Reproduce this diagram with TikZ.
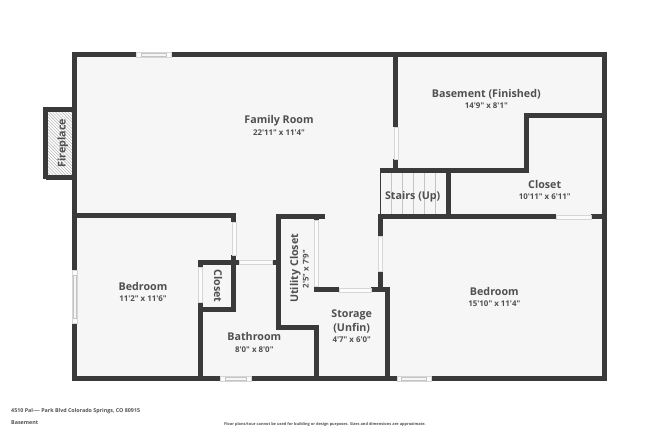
\documentclass[tikz,border=0pt]{standalone}
\usepackage{fontspec}
\newfontfamily\osf{Open Sans}
\definecolor{wallc}{HTML}{3A3A3A}
\definecolor{floorc}{HTML}{F6F6F6}
\definecolor{textc}{HTML}{505050}
\definecolor{openc}{HTML}{FBFBFB}
\definecolor{edgec}{HTML}{D6D6D6}
\definecolor{treadc}{HTML}{C4C4C4}
\definecolor{hatchc}{HTML}{B0B0B0}
\tikzset{
  wall/.style={draw=wallc,line width=5pt,miter limit=10,line cap=butt,line join=miter},
  thinwall/.style={draw=wallc,line width=1pt},
  tread/.style={draw=treadc,line width=0.7pt},
  roomname/.style={font=\osf\bfseries\fontsize{10.7}{13}\selectfont,text=textc,inner sep=0pt,text height=8pt,text depth=0pt},
  roomdim/.style={font=\osf\bfseries\fontsize{7.9}{10}\selectfont,text=textc,inner sep=0pt,text height=6pt,text depth=0pt},
  foot/.style={font=\osf\bfseries\fontsize{5.35}{6}\selectfont,text=textc,inner sep=0pt,anchor=west},
  footc/.style={font=\osf\bfseries\fontsize{3.9}{5}\selectfont,text=textc,inner sep=0pt},
  opening/.style={fill=openc,draw=edgec,line width=0.35pt},
  winbar/.style={fill=floorc,draw=treadc,line width=0.4pt}
}
\begin{document}
\begin{tikzpicture}[x=1pt,y=-1pt]
\useasboundingbox (0,0) rectangle (650,433);
% floor
\fill[floorc] (74.8,54.8) rectangle (604.2,378.2);
% fireplace hatch
\fill[white] (48,111.5) rectangle (72.5,175);
\begin{scope}
\clip (48,111.5) rectangle (72.5,175);
\foreach \k in {0,...,32}{
  \draw[hatchc,line width=0.45pt] (44+3.1*\k,178) -- ++(-70,-70);
}
\end{scope}
% walls
\draw[wall] (45.8,109.2) -- (74.8,109.2);
\draw[wall] (45.8,106.7) -- (45.8,179.3);
\draw[wall] (45.8,177) -- (74.8,177);
\draw[wall] (74.8,378.2) -- (74.8,54.8) -- (604.2,54.8) -- (604.2,378.2) -- cycle;
% upper interior
\draw[wall] (395.7,55) -- (395.7,126.7);
\draw[wall] (395.7,159) -- (395.7,170.5);
\draw[wall] (380,170.5) -- (526,170.5) -- (526,116) -- (604,116);
\draw[wall] (448,170.5) -- (448,217);
\draw[wall] (378,216.8) -- (556,216.8);
\draw[wall] (590.7,216.8) -- (604,216.8);
\draw[wall] (380.4,214.5) -- (380.4,236);
\draw[wall] (380.4,270.7) -- (380.4,290);
% left bedroom
\draw[wall] (75,215) -- (233.9,215) -- (233.9,221.7);
\draw[wall] (233.9,255) -- (233.9,311.7);
\draw[wall] (198,262.5) -- (239,262.5);
\draw[wall] (200.3,260) -- (200.3,266.7);
\draw[wall] (200.3,301.7) -- (200.3,378);
\draw[wall] (200.3,309.3) -- (236.4,309.3);
% utility closet
\draw[wall] (271.7,262.5) -- (279,262.5);
\draw[wall] (325,216) -- (278.7,216) -- (278.7,327.7) -- (316.3,327.7) -- (316.3,378);
\draw[wall] (316,216) -- (316,220);
\draw[wall] (316,286) -- (316,292);
\draw[wall] (314,289.7) -- (338.7,289.7);
\draw[wall] (371.3,289.7) -- (389.5,289.7);
\draw[wall] (387,289.7) -- (387,378);
% door openings
\fill[opening] (232,221.7) rectangle (236,255);
\fill[opening] (198.4,266.7) rectangle (202.4,301.7);
\fill[opening] (239,260.6) rectangle (271.7,264.6);
\fill[opening] (314,220) rectangle (318,286);
\fill[opening] (338.7,287.8) rectangle (371.3,291.8);
\fill[opening] (378.4,236) rectangle (382.4,270.7);
\fill[opening] (393.7,126.7) rectangle (397.7,159);
\fill[opening] (556,214.8) rectangle (590.7,218.8);
% windows
\fill[opening] (136,52.3) rectangle (171,57.3);
\fill[winbar] (141,53.3) rectangle (166,56.3);
\fill[opening] (220,375.7) rectangle (251,380.7);
\fill[winbar] (225,376.7) rectangle (246,379.7);
\fill[opening] (396.7,375.7) rectangle (430.7,380.7);
\fill[winbar] (401.5,376.7) rectangle (426,379.7);
\fill[opening] (72.3,270) rectangle (77.3,323.3);
\fill[winbar] (73.3,275) rectangle (76.3,318.5);
% stairs
\draw[thinwall] (380.7,170) -- (380.7,215);
\foreach \sx in {391.7,402.6,413.5,424.4,435.3}{
  \draw[tread] (\sx,173) -- (\sx,214.3);
}
% labels
\node[roomname] (family) at (279,120) {Family Room};
\node[roomdim] (familyd) at (279,132.7) {22'11" x 11'4"};
\node[roomname] (basement) at (486.3,94) {Basement (Finished)};
\node[roomdim] (basementd) at (486.3,106) {14'9" x 8'1"};
\node[roomname] (closetr) at (544.7,184) {Closet};
\node[roomdim] (closetrd) at (544.7,196.7) {10'11" x 6'11"};
\node[roomname] (stairs) at (412.7,195.7) {Stairs (Up)};
\node[roomname,rotate=90] (fireplace) at (61.7,143) {Fireplace};
\node[roomname] (bedl) at (143,286) {Bedroom};
\node[roomdim] (bedld) at (143,298.7) {11'2" x 11'6"};
\node[roomname,rotate=-90] (closetl) at (218,286) {Closet};
\node[roomname,rotate=90] (utility) at (294,268.3) {Utility Closet};
\node[roomdim,rotate=90] (utilityd) at (305.7,269) {2'5" x 7'9"};
\node[roomname] (bath) at (254.3,336.7) {Bathroom};
\node[roomdim] (bathd) at (254.3,349.3) {8'0" x 8'0"};
\node[roomname] (storage) at (351.7,313.3) {Storage};
\node[roomname] (unfin) at (351.7,327.3) {(Unfin)};
\node[roomdim] (storaged) at (351.7,339.3) {4'7" x 6'0"};
\node[roomname] (bedr) at (494.3,291) {Bedroom};
\node[roomdim] (bedrd) at (494.3,303.3) {15'10" x 11'4"};
\node[foot] (addr) at (11,411.3) {4510 Pal---- Park Blvd Colorado Springs, CO 80915};
\node[foot] (level) at (11,422.3) {Basement};
\node[footc] (disc) at (325,424.5) {Floor plans/tour cannot be used for building or design purposes. Sizes and dimensions are approximate.};
\end{tikzpicture}
\end{document}
